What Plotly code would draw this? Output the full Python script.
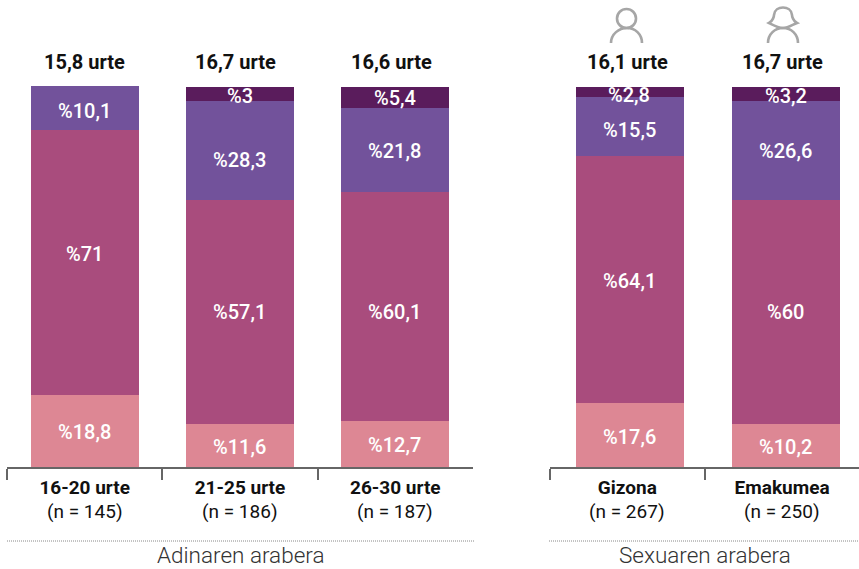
import plotly.graph_objects as go

W, H = 859, 569
FONT = "Roboto"
COLORS = ["#dd8794", "#a94c7d", "#72529b", "#5a1c5c"]
TEXT = "#111111"

cats_age = ["16-20 urte", "21-25 urte", "26-30 urte"]
cats_sex = ["Gizona", "Emakumea"]
n_age = ["(n = 145)", "(n = 186)", "(n = 187)"]
n_sex = ["(n = 267)", "(n = 250)"]
mean_age = ["15,8 urte", "16,7 urte", "16,6 urte"]
mean_sex = ["16,1 urte", "16,7 urte"]

# Segment heights as measured in the picture; printed labels kept separately.
age_heights = [
    [18.9, 11.3, 12.1],
    [69.7, 58.9, 60.3],
    [11.6, 26.1, 22.1],
    [0, 3.7, 5.5],
]
age_labels = [
    ["%18,8", "%11,6", "%12,7"],
    ["%71", "%57,1", "%60,1"],
    ["%10,1", "%28,3", "%21,8"],
    ["", "%3", "%5,4"],
]
age_label_y = [
    [9.2, 5.3, 5.8],
    [56.1, 40.8, 40.8],
    [93.7, 80.8, 83.2],
    [0, 97.6, 97.1],
]
sex_heights = [
    [16.8, 11.3],
    [65.0, 58.9],
    [15.5, 26.1],
    [2.7, 3.7],
]
sex_labels = [
    ["%17,6", "%10,2"],
    ["%64,1", "%60"],
    ["%15,5", "%26,6"],
    ["%2,8", "%3,2"],
]
sex_label_y = [
    [7.9, 5.3],
    [48.9, 40.8],
    [88.7, 83.2],
    [97.9, 97.6],
]

BAR_W = 0.697
SEX_SHIFT_PX = [2.5, 4]   # the right-hand bars sit slightly right of their slots
MEAN_SHIFT_AGE = [0, -5, -4]
MEAN_SHIFT_SEX = [0, 0]
SLOT_PX = 155

fig = go.Figure()


def add_group(cats, heights, labels, label_y, xa, ya, shifts):
    offsets = [-BAR_W / 2 + s / SLOT_PX for s in shifts]
    for vals, txt, ly, col in zip(heights, labels, label_y, COLORS):
        fig.add_bar(
            x=cats, y=vals, xaxis=xa, yaxis=ya, width=BAR_W, offset=offsets,
            marker=dict(color=col, line=dict(width=0)),
            showlegend=False, hoverinfo="skip",
        )
        for i, (t, v) in enumerate(zip(txt, ly)):
            if t:
                fig.add_annotation(
                    x=i, xref=xa, y=v, yref=ya, text=t, showarrow=False, xshift=shifts[i] - 0.5,
                    font=dict(family=FONT, size=20, color="#ffffff", weight=500),
                )


add_group(cats_age, age_heights, age_labels, age_label_y, "x", "y", [0, 0, 0])
add_group(cats_sex, sex_heights, sex_labels, sex_label_y, "x2", "y2", SEX_SHIFT_PX)

Y_BOTTOM, Y_TOP = 1 - 467 / H, 1 - 86 / H
axis_common = dict(
    type="category", showgrid=False, zeroline=False, showline=True,
    linecolor="#666666", linewidth=1.5, ticks="outside", tickson="boundaries",
    ticklen=11, tickcolor="#666666", tickwidth=1.5, ticklabelstandoff=2,
    tickfont=dict(family=FONT, size=19, color=TEXT, weight=700),
    fixedrange=True,
)
y_common = dict(visible=False, range=[0, 100.26], domain=[Y_BOTTOM, Y_TOP], fixedrange=True)

fig.update_layout(
    width=W, height=H, barmode="stack", margin=dict(l=0, r=0, t=0, b=0),
    paper_bgcolor="#ffffff", plot_bgcolor="#ffffff",
    xaxis=dict(domain=[7 / W, 473 / W], **axis_common),
    xaxis2=dict(domain=[550 / W, 1.0], range=[-0.5, 1.497], **axis_common),
    yaxis=dict(anchor="x", **y_common),
    yaxis2=dict(anchor="x2", **y_common),
)

top_y = 1 - 62 / H
n_y = 1 - 511 / H
for xa, means, ns, shifts in [("x", mean_age, n_age, MEAN_SHIFT_AGE), ("x2", mean_sex, n_sex, MEAN_SHIFT_SEX)]:
    for i, (m, n) in enumerate(zip(means, ns)):
        fig.add_annotation(x=i, xref=xa, xshift=shifts[i], y=top_y, yref="paper", yanchor="middle",
                           text=f"<b>{m}</b>", showarrow=False, font=dict(family=FONT, size=20, color=TEXT))
        fig.add_annotation(x=i, xref=xa, y=n_y, yref="paper", yanchor="middle", text=n, borderpad=0,
                           showarrow=False, font=dict(family=FONT, size=19, color=TEXT))

for px, t in [(240.5, "Adinaren arabera"), (705, "Sexuaren arabera")]:
    fig.add_annotation(x=px / W, xref="paper", xanchor="center", y=1 - 555 / H, yref="paper", yanchor="middle",
                       text=t, showarrow=False,
                       font=dict(family=FONT, size=22.5, color="#333333", weight=300))

for x0, x1 in [(7, 475), (549, 859)]:
    fig.add_shape(type="line", xref="paper", yref="paper", x0=x0 / W, x1=x1 / W,
                  y0=1 - 541 / H, y1=1 - 541 / H, line=dict(color="#888888", width=1, dash="1px,1px"))


def px_path(pts):
    out = []
    for cmd, *xy in pts:
        out.append(cmd + " " + " ".join(
            f"{xy[i] / W:.5f} {1 - xy[i + 1] / H:.5f}" for i in range(0, len(xy), 2)))
    return " ".join(out)


ICON = dict(color="#a6a6a6", width=2.6)
# man
fig.add_shape(type="circle", xref="paper", yref="paper", x0=617 / W, x1=636 / W,
              y0=1 - 28 / H, y1=1 - 9 / H, line=ICON)
fig.add_shape(type="path", xref="paper", yref="paper", line=ICON, path=px_path([
    ("M", 611, 43), ("C", 611, 34, 619, 28, 627, 28), ("C", 635, 28, 642, 34, 642, 43)]))
# woman
fig.add_shape(type="path", xref="paper", yref="paper", line=ICON, path=px_path([
    ("M", 769, 23), ("C", 773, 21, 774, 16, 774, 15), ("C", 775, 5, 791, 5, 792, 15),
    ("C", 792, 16, 793, 21, 797, 23), ("C", 792, 25, 788, 28, 783, 28),
    ("C", 778, 28, 773, 25, 769, 23), ("Z",)]))
fig.add_shape(type="path", xref="paper", yref="paper", line=ICON, path=px_path([
    ("M", 768, 43), ("C", 768, 34, 775, 28, 783, 28), ("C", 791, 28, 798, 34, 798, 43)]))

fig.write_html("out.html", config={"displayModeBar": False},
               post_script="document.body.style.margin='0';document.documentElement.style.overflow='hidden';")
